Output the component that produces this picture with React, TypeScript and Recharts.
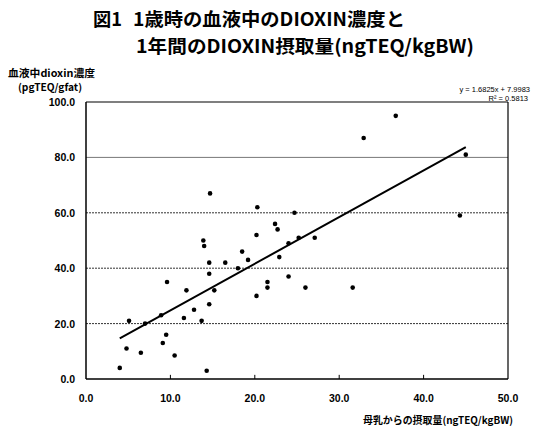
import { ScatterChart, Scatter, XAxis, YAxis, ReferenceLine } from 'recharts'

// 1年間の母乳からの摂取量 (ngTEQ/kgBW) と 1歳時の血液中濃度 (pgTEQ/gfat)
const intake = [
  4.0, 4.8, 5.1, 6.5, 7.0, 8.9, 9.1, 9.5, 9.6, 10.5, 11.6, 11.9, 12.8, 13.7, 13.9,
  14.0, 14.3, 14.6, 14.6, 14.6, 15.2, 14.7, 16.5, 18.0, 18.5, 19.2, 20.2, 20.3, 20.2,
  21.5, 21.5, 22.4, 22.7, 22.9, 24.0, 24.0, 24.7, 25.2, 27.1, 26.0, 31.6, 32.9, 36.7,
  45.0, 44.3,
]
const blood = [
  4, 11, 21, 9.5, 20, 23, 13, 16, 35, 8.5, 22, 32, 25, 21, 50,
  48, 3, 42, 38, 27, 32, 67, 42, 40, 46, 43, 30, 62, 52,
  35, 33, 56, 54, 44, 37, 49, 60, 51, 51, 33, 33, 87, 95,
  81, 59,
]
// 近似直線の両端
const trendX = [4.0, 45.0]
const trendY = [14.7, 83.7]

const xTicks = [0, 10, 20, 30, 40, 50]
const yTicks = [0, 20, 40, 60, 80, 100]
const gridY = [20, 40, 60, 80]

const points = intake.map((x, i) => ({ x, y: blood[i] }))
const trend = trendX.map((x, i) => ({ x, y: trendY[i] }))

const latin = '"Liberation Sans", Arial, sans-serif'
const jp = '"Noto Sans CJK JP", sans-serif'

const Dot = (p: any) => <circle cx={p.cx} cy={p.cy} r={2.3} fill="#000" />
const NoDot = () => <g />

const XTick = (p: any) => (
  <text x={p.x} y={p.y + 13} textAnchor="middle" fontFamily={latin} fontWeight="bold" fontSize={10.5} fill="#000">
    {Number(p.payload.value).toFixed(1)}
  </text>
)
const YTick = (p: any) => (
  <text x={p.x - 1} y={p.y + 4} textAnchor="end" fontFamily={latin} fontWeight="bold" fontSize={10.5} fill="#000">
    {Number(p.payload.value).toFixed(1)}
  </text>
)

export default function App() {
  return (
    <div style={{ position: 'absolute', left: 0, top: 0, width: 534, height: 428, background: '#fff' }}>
      <ScatterChart width={534} height={428} margin={{ top: 102, right: 26, bottom: 19, left: 26 }}>
        <XAxis
          type="number"
          dataKey="x"
          domain={[0, 50]}
          ticks={xTicks}
          height={30}
          tickLine={false}
          tickMargin={4}
          axisLine={{ stroke: '#000', strokeWidth: 1.5 }}
          tick={<XTick />}
        />
        <YAxis
          type="number"
          dataKey="y"
          domain={[0, 100]}
          ticks={yTicks}
          width={60}
          tickLine={false}
          tickMargin={4}
          axisLine={{ stroke: '#000', strokeWidth: 1.5 }}
          tick={<YTick />}
        />
        {gridY.map(v => (
          <ReferenceLine
            key={v}
            y={v}
            stroke={v === 80 ? '#777' : '#333'}
            strokeDasharray={v === 80 ? undefined : '2 1'}
            strokeWidth={1}
          />
        ))}
        <ReferenceLine y={100} stroke="#000" strokeWidth={1.2} />
        <ReferenceLine x={50} stroke="#000" strokeWidth={1.2} />
        {xTicks.slice(1, -1).map(v => (
          <ReferenceLine key={'t' + v} segment={[{ x: v, y: 0 }, { x: v, y: 1.5 }]} stroke="#000" />
        ))}
        <Scatter data={points} shape={Dot} isAnimationActive={false} />
        <Scatter
          data={trend}
          shape={NoDot}
          line={{ stroke: '#000', strokeWidth: 2 }}
          lineType="joint"
          isAnimationActive={false}
        />
      </ScatterChart>
      <svg width={534} height={428} style={{ position: 'absolute', left: 0, top: 0, pointerEvents: 'none' }}>
        <text x={93} y={26} fontFamily={jp} fontWeight="bold" fontSize={18.5} fill="#000" textLength={29} lengthAdjust="spacingAndGlyphs">
          図1
        </text>
        <text x={133} y={26} fontFamily={jp} fontWeight="bold" fontSize={18.5} fill="#000" textLength={272} lengthAdjust="spacingAndGlyphs">
          1歳時の血液中のDIOXIN濃度と
        </text>
        <text x={136} y={53} fontFamily={jp} fontWeight="bold" fontSize={18.5} fill="#000" textLength={338} lengthAdjust="spacingAndGlyphs">
          1年間のDIOXIN摂取量(ngTEQ/kgBW)
        </text>
        <text x={8} y={77} fontFamily={jp} fontWeight="bold" fontSize={10} fill="#000" textLength={87} lengthAdjust="spacingAndGlyphs">
          血液中dioxin濃度
        </text>
        <text x={18} y={91} fontFamily={jp} fontWeight="bold" fontSize={10} fill="#000" textLength={64} lengthAdjust="spacingAndGlyphs">
          (pgTEQ/gfat)
        </text>
        <text x={530} y={92} textAnchor="end" fontFamily={latin} fontSize={7.5} fill="#000">
          y = 1.6825x + 7.9983
        </text>
        <text x={528} y={101} textAnchor="end" fontFamily={latin} fontSize={7.5} fill="#000">
          R² = 0.5813
        </text>
        <text x={363} y={424} fontFamily={jp} fontWeight="bold" fontSize={10} fill="#000" textLength={150} lengthAdjust="spacingAndGlyphs">
          母乳からの摂取量(ngTEQ/kgBW)
        </text>
      </svg>
    </div>
  )
}
